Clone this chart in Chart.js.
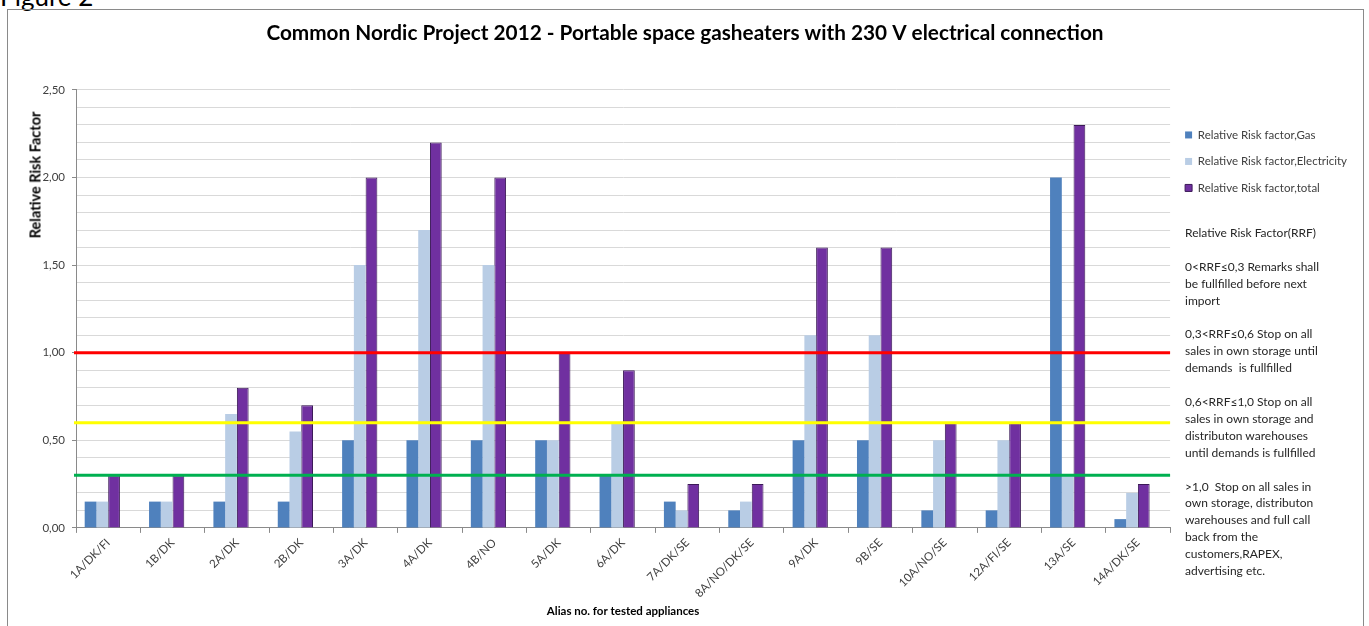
<!DOCTYPE html>
<html>
<head>
<meta charset="utf-8">
<title>Relative Risk Factor chart</title>
<script src="https://cdn.jsdelivr.net/npm/chart.js@4.4.0/dist/chart.umd.min.js"></script>
<style>
    body { margin: 0; background: #fff; font-family: Lato, 'Liberation Sans', sans-serif; overflow: hidden; }
    #fig-label { position: absolute; left: 0; top: -17px; font-size: 26px; line-height: 1; color: #000; }
    #frame { position: absolute; left: 7px; top: 9px; width: 1355px; height: 640px; border: 1px solid #8a8a8a; }
    #chart-box { position: absolute; left: 8px; top: 10px; }
    #y-title { position: absolute; left: 35px; top: 175px; transform: translate(-50%, -50%) rotate(-90deg);
               font-size: 14.5px; font-weight: bold; white-space: nowrap; color: #000; }
    #notes { position: absolute; left: 1185px; top: 225px; font-size: 12px; line-height: 16.9px; color: #262626; white-space: nowrap; }
    #notes p { margin: 0 0 16.9px 0; }
</style>
</head>
<body>
<div id="fig-label">Figure 2</div>
<div id="frame"></div>
<div id="chart-box"><canvas id="rrf-chart" width="1354" height="616"></canvas></div>
<div id="y-title">Relative Risk Factor</div>
<div id="notes">
    <p>Relative Risk Factor(RRF)</p>
    <p>0&lt;RRF≤0,3 Remarks shall<br>be fullfilled before next<br>import</p>
    <p>0,3&lt;RRF≤0,6 Stop on all<br>sales in own storage until<br>demands&nbsp; is fullfilled</p>
    <p>0,6&lt;RRF≤1,0 Stop on all<br>sales in own storage and<br>distributon warehouses<br>until demands is fullfilled</p>
    <p>&gt;1,0&nbsp; Stop on all sales in<br>own storage, distributon<br>warehouses and full call<br>back from the<br>customers,RAPEX,<br>advertising etc.</p>
</div>
<script>
// --- Data ---
const appliances = ['1A/DK/FI', '1B/DK', '2A/DK', '2B/DK', '3A/DK', '4A/DK', '4B/NO', '5A/DK', '6A/DK',
    '7A/DK/SE', '8A/NO/DK/SE', '9A/DK', '9B/SE', '10A/NO/SE', '12A/FI/SE', '13A/SE', '14A/DK/SE'];
const rrfGas = [0.15, 0.15, 0.15, 0.15, 0.5, 0.5, 0.5, 0.5, 0.3, 0.15, 0.1, 0.5, 0.5, 0.1, 0.1, 2.0, 0.05];
const rrfElectricity = [0.15, 0.15, 0.65, 0.55, 1.5, 1.7, 1.5, 0.5, 0.6, 0.1, 0.15, 1.1, 1.1, 0.5, 0.5, 0.3, 0.2];
const rrfTotal = [0.3, 0.3, 0.8, 0.7, 2.0, 2.2, 2.0, 1.0, 0.9, 0.25, 0.25, 1.6, 1.6, 0.6, 0.6, 2.3, 0.25];
const yTicks = [0, 0.5, 1.0, 1.5, 2.0, 2.5];
const thresholds = [1.0, 0.6, 0.3];

const thresholdColors = ['#ff0000', '#ffff00', '#00b050'];
const fmt = v => v.toFixed(2).replace('.', ',');
const isLabelTick = v => yTicks.some(t => Math.abs(t - v) < 1e-6);

// draws the RRF limit lines across the plot, on top of the bars
const thresholdLines = {
    id: 'thresholdLines',
    afterDatasetsDraw(chart) {
        const { ctx, chartArea, scales } = chart;
        ctx.save();
        thresholds.forEach((v, i) => {
            const y = scales.y.getPixelForValue(v);
            ctx.strokeStyle = thresholdColors[i];
            ctx.lineWidth = 3;
            ctx.beginPath();
            ctx.moveTo(chartArea.left - 2, y);
            ctx.lineTo(chartArea.right, y);
            ctx.stroke();
        });
        ctx.restore();
    }
};

new Chart(document.getElementById('rrf-chart'), {
    type: 'bar',
    data: {
        labels: appliances,
        datasets: [
            { label: 'Relative Risk factor,Gas', data: rrfGas, backgroundColor: '#4f81bd' },
            { label: 'Relative Risk factor,Electricity', data: rrfElectricity, backgroundColor: '#b9cde5' },
            { label: 'Relative Risk factor,total', data: rrfTotal, backgroundColor: '#7030a0',
              borderColor: '#3c1a58', borderWidth: 1, borderSkipped: 'bottom' },
            // empty fourth slot, as in the original sheet
            { label: '', data: appliances.map(() => null), backgroundColor: 'transparent' }
        ]
    },
    options: {
        responsive: false,
        animation: false,
        devicePixelRatio: 1,
        categoryPercentage: 0.73,
        barPercentage: 1.0,
        layout: { padding: { left: 5, right: 5, top: 0, bottom: 8 } },
        plugins: {
            title: {
                display: true,
                text: 'Common Nordic Project 2012 - Portable space gasheaters with 230 V electrical connection',
                color: '#000',
                font: { family: 'Lato', size: 20.75, weight: 'bold' },
                padding: { top: 11, bottom: 44 }
            },
            legend: {
                position: 'right',
                align: 'start',
                title: { display: true, text: '', font: { size: 11 }, padding: { top: 87, bottom: 4 } },
                labels: {
                    boxWidth: 7,
                    boxHeight: 7,
                    padding: 15,
                    color: '#404040',
                    font: { family: 'Lato', size: 11.5 },
                    filter: item => item.text !== ''
                }
            },
            tooltip: { enabled: false }
        },
        scales: {
            x: {
                grid: { display: true, drawOnChartArea: false, tickLength: 5, color: '#8a8a8a', offset: true },
                border: { color: '#8a8a8a' },
                ticks: { minRotation: 45, maxRotation: 45, color: '#404040', font: { family: 'Lato', size: 11.5 } },
                title: {
                    display: true,
                    text: 'Alias no. for tested appliances',
                    color: '#000',
                    font: { family: 'Lato', size: 11.5, weight: 'bold' },
                    padding: { top: 1, bottom: 0 }
                }
            },
            y: {
                min: 0,
                max: 2.5,
                afterFit: scale => { scale.width = 63; },
                ticks: {
                    stepSize: 0.1,
                    autoSkip: false,
                    padding: 7,
                    color: '#404040',
                    font: { family: 'Lato', size: 11.5 },
                    callback: v => isLabelTick(v) ? fmt(v) : ''
                },
                grid: {
                    color: '#d9d9d9',
                    tickLength: 4,
                    tickColor: c => (c.tick && isLabelTick(c.tick.value)) ? '#8a8a8a' : 'rgba(0,0,0,0)'
                },
                border: { color: '#8a8a8a' }
            }
        }
    },
    plugins: [thresholdLines]
});
</script>
</body>
</html>
